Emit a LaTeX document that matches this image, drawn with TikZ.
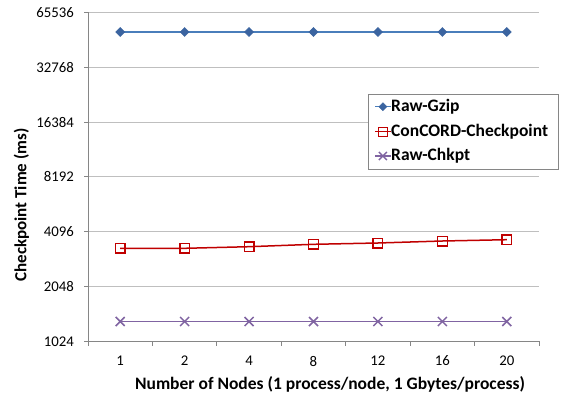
\documentclass[tikz,border=0pt]{standalone}
\usepackage{fontspec}
\setmainfont{Carlito}
\usetikzlibrary{calc}
\definecolor{gzipline}{HTML}{4A7EBB}
\definecolor{gzipmark}{HTML}{3B64A0}
\definecolor{concord}{HTML}{C00000}
\definecolor{chkpt}{HTML}{8064A2}
\definecolor{gridc}{HTML}{BFBFBF}
\definecolor{axisc}{HTML}{868686}
\begin{document}
\begin{tikzpicture}[x=1pt,y=-1pt,
  gridline/.style={draw=gridc,line width=0.9pt},
  axisline/.style={draw=axisc,line width=0.9pt},
  ticklbl/.style={font=\fontsize{14.8}{16}\selectfont,inner sep=0pt},
  axtitle/.style={font=\fontsize{17.5}{19}\selectfont\bfseries,inner sep=0pt},
  ytitlefont/.style={font=\fontsize{17}{19}\selectfont\bfseries,inner sep=0pt},
  leglbl/.style={font=\fontsize{17.5}{19}\selectfont\bfseries,inner sep=0pt,anchor=west},
  gzipser/.style={draw=gzipline,line width=1.4pt},
  concordser/.style={draw=concord,line width=1.5pt},
  chkptser/.style={draw=chkpt,line width=1.4pt},
  dmark/.style={fill=gzipmark,draw=gzipmark,line width=0.5pt},
  smark/.style={draw=concord,fill=white,line width=1.4pt},
  xmark/.style={draw=chkpt,line width=1.5pt}]
\useasboundingbox (0,0) rectangle (561,401);
\fill[white] (0,0) rectangle (561,401);

% horizontal gridlines, one per octave
\foreach \v/\y in {65536/12.5,32768/67.3,16384/122.1,8192/176.9,4096/231.7,2048/286.5}{
  \draw[gridline] (88,\y) -- (539,\y);
  \node[ticklbl,anchor=east] at (74,\y) {\v};
  \draw[axisline] (84,\y) -- (88,\y);
}
\node[ticklbl,anchor=east] at (74,341.3) {1024};
\draw[axisline] (84,341.3) -- (88,341.3);

% axes
\draw[axisline] (88,12.5) -- (88,341.3) -- (539,341.3);
\foreach \i in {0,...,7}{
  \draw[axisline] ({88+64.43*\i},341.3) -- ({88+64.43*\i},346);
}
\foreach \lab [count=\i from 0] in {1,2,4,8,12,16,20}{
  \node[ticklbl] at ({120.2+64.43*\i},361) {\lab};
}

% axis titles
\node[ytitlefont,rotate=90] (ytitle) at (21.5,205) {Checkpoint Time (ms)};
\node[axtitle] (xtitle) at (330,384) {Number of Nodes (1 process/node, 1 Gbytes/process)};

% data points
\foreach \i in {0,...,6}{
  \coordinate (g\i) at ({120.2+64.43*\i},32);
  \coordinate (k\i) at ({120.2+64.43*\i},321.5);
}
\coordinate (c0) at (120.2,248.3);
\coordinate (c1) at (184.6,248.3);
\coordinate (c2) at (249.1,246.7);
\coordinate (c3) at (313.5,244.3);
\coordinate (c4) at (377.9,243.0);
\coordinate (c5) at (442.4,241.0);
\coordinate (c6) at (506.8,239.7);

% series lines
\draw[gzipser] (g0) -- (g1) -- (g2) -- (g3) -- (g4) -- (g5) -- (g6);
\draw[concordser] (c0) -- (c1) -- (c2) -- (c3) -- (c4) -- (c5) -- (c6);
\draw[chkptser] (k0) -- (k1) -- (k2) -- (k3) -- (k4) -- (k5) -- (k6);

% markers
\foreach \i in {0,...,6}{
  \path[dmark] ($(g\i)+(-4.5,0)$) -- ($(g\i)+(0,-4.5)$) -- ($(g\i)+(4.5,0)$) -- ($(g\i)+(0,4.5)$) -- cycle;
  \path[smark,fill=none] ($(c\i)+(-4.8,-4.8)$) rectangle ($(c\i)+(4.8,4.8)$);
  \draw[xmark] ($(k\i)+(-4.5,-4.5)$) -- ($(k\i)+(4.5,4.5)$) ($(k\i)+(-4.5,4.5)$) -- ($(k\i)+(4.5,-4.5)$);
}

% legend
\node[draw=axisc,line width=0.8pt,fill=white,minimum width=189.7pt,minimum height=75.3pt,inner sep=0pt,anchor=north west] (legend) at (368.3,94) {};
\coordinate (la1) at (375,106.7); \coordinate (lb1) at (390.7,106.7);
\coordinate (la2) at (375,131.7); \coordinate (lb2) at (390.7,131.7);
\coordinate (la3) at (375,156.0); \coordinate (lb3) at (390.7,156.0);
\coordinate (lm1) at (382.9,106.7);
\coordinate (lm2) at (382.9,131.7);
\coordinate (lm3) at (382.9,156.0);
\draw[gzipser] (la1) -- (lb1);
\path[dmark] ($(lm1)+(-4,0)$) -- ($(lm1)+(0,-4)$) -- ($(lm1)+(4,0)$) -- ($(lm1)+(0,4)$) -- cycle;
\draw[concordser] (la2) -- (lb2);
\path[smark,fill=none] ($(lm2)+(-4.5,-4.5)$) rectangle ($(lm2)+(4.5,4.5)$);
\draw[chkptser] (la3) -- (lb3);
\draw[xmark] ($(lm3)+(-4,-4)$) -- ($(lm3)+(4,4)$) ($(lm3)+(-4,4)$) -- ($(lm3)+(4,-4)$);
\node[leglbl] (l1) at (391,106.7) {Raw-Gzip};
\node[leglbl] (l2) at (391,131.7) {ConCORD-Checkpoint};
\node[leglbl] (l3) at (391,156.0) {Raw-Chkpt};
\end{tikzpicture}
\end{document}
